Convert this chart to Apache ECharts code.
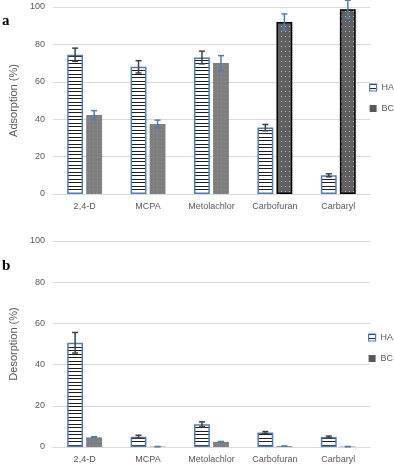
<!DOCTYPE html>
<html>
<head>
<meta charset="utf-8">
<script src="https://cdn.jsdelivr.net/npm/echarts@6/dist/echarts.min.js"></script>
<style>
  html, body { margin: 0; padding: 0; background: #fff; }
  #chart { width: 394px; height: 465px; }
</style>
</head>
<body>
<div id="chart"></div>
<script>
  // pesticide categories
  var categories = ['2,4-D', 'MCPA', 'Metolachlor', 'Carbofuran', 'Carbaryl'];

  // (a) adsorption %
  var adsHA = [74.5, 68, 73, 35.5, 10];
  var adsHAErr = [3.5, 3.3, 3.4, 1.7, 0.8];
  var adsBC = [42.2, 37.5, 70, 92, 98.8];
  var adsBCErr = [2.4, 2, 4, 4.3, 4.8];

  // (b) desorption %
  var desHA = [50.6, 5, 11, 7, 4.8];
  var desHAErr = [5, 0.7, 1.2, 0.5, 0.5];
  var desBC = [4.7, 0.2, 2.5, 0.4, 0.2];
  var desBCErr = [0.3, 0, 0.2, 0, 0];

  var labelColor = '#595959';
  var gridColor = '#d9d9d9';
  var font = '"Liberation Sans", Arial, sans-serif';

  // horizontal stripes for HA
  function stripes() {
    var c = document.createElement('canvas');
    c.width = 4; c.height = 7;
    var ctx = c.getContext('2d');
    ctx.fillStyle = '#fff';
    ctx.fillRect(0, 0, 4, 7);
    ctx.fillStyle = '#1e1e1e';
    ctx.fillRect(0, 0, 4, 1);
    ctx.fillRect(0, 4, 4, 1);
    return c;
  }
  // dotted grey for BC
  function dots(base, dot, w, h) {
    var c = document.createElement('canvas');
    c.width = w; c.height = h;
    var ctx = c.getContext('2d');
    ctx.fillStyle = base;
    ctx.fillRect(0, 0, w, h);
    ctx.fillStyle = dot;
    ctx.fillRect(1, 1, 1, 1);
    return c;
  }
  var haFill = { image: stripes(), repeat: 'repeat' };
  var bcFill = { image: dots('#7f7f7f', '#929292', 4, 4), repeat: 'repeat' };
  var bcFillDark = { image: dots('#606060', '#b8b8b8', 4, 5), repeat: 'repeat' };

  function errData(vals, errs) {
    return vals.map(function (v, i) { return [i, v - errs[i], v + errs[i]]; });
  }

  function errorBars(offset, color) {
    return function (params, api) {
      var band = api.size([1, 0])[0];
      var lo = api.coord([api.value(0), api.value(1)]);
      var hi = api.coord([api.value(0), api.value(2)]);
      var x = lo[0] + offset * band;
      var st = { stroke: color, lineWidth: 1.5 };
      return {
        type: 'group',
        children: [
          { type: 'line', shape: { x1: x, y1: lo[1], x2: x, y2: hi[1] }, style: st },
          { type: 'line', shape: { x1: x - 3, y1: lo[1], x2: x + 3, y2: lo[1] }, style: st },
          { type: 'line', shape: { x1: x - 3, y1: hi[1], x2: x + 3, y2: hi[1] }, style: st }
        ]
      };
    };
  }

  function xAxis(idx) {
    return {
      type: 'category', gridIndex: idx, data: categories,
      axisLine: { lineStyle: { color: gridColor } },
      axisTick: { show: false },
      axisLabel: { color: labelColor, fontSize: 9, fontFamily: font, margin: 8 }
    };
  }
  function yAxis(idx, name, gap) {
    return {
      type: 'value', gridIndex: idx, min: 0, max: 100, interval: 20,
      name: name, nameLocation: 'middle', nameGap: gap,
      nameTextStyle: { color: labelColor, fontSize: 11, fontFamily: font },
      axisLine: { show: false }, axisTick: { show: false },
      splitLine: { lineStyle: { color: gridColor } },
      axisLabel: { color: labelColor, fontSize: 9, fontFamily: font, margin: 8 }
    };
  }

  function haBar(idx, vals) {
    return {
      name: 'HA', type: 'bar', xAxisIndex: idx, yAxisIndex: idx,
      barWidth: '25%', barGap: '20%', data: vals,
      itemStyle: { color: haFill, borderColor: '#4a7ebb', borderWidth: 1.5 }
    };
  }
  function bcBar(idx, vals, darkFrom) {
    return {
      name: 'BC', type: 'bar', xAxisIndex: idx, yAxisIndex: idx,
      barWidth: '25%', barGap: '20%',
      data: vals.map(function (v, i) {
        return i >= darkFrom
          ? { value: v, itemStyle: { color: bcFillDark, borderColor: '#000', borderWidth: 1.5 } }
          : v;
      }),
      itemStyle: { color: bcFill }
    };
  }
  function errSeries(idx, data, offset, color) {
    return {
      type: 'custom', xAxisIndex: idx, yAxisIndex: idx, z: 5,
      renderItem: errorBars(offset, color), encode: { x: 0, y: [1, 2] },
      data: data, silent: true
    };
  }

  function legend(top, left) {
    return {
      top: top, left: left, orient: 'vertical', padding: 0,
      itemWidth: 7, itemHeight: 7, itemGap: 12, icon: 'rect',
      textStyle: { color: labelColor, fontSize: 9, fontFamily: font },
      data: [
        { name: 'HA', itemStyle: { color: haFill, borderColor: '#4a7ebb', borderWidth: 1.2 } },
        { name: 'BC', itemStyle: { color: '#595959' } }
      ]
    };
  }

  var chart = echarts.init(document.getElementById('chart'));
  chart.setOption({
    animation: false,
    backgroundColor: '#fff',
    grid: [
      { left: 45, right: 24, top: 7, height: 187 },
      { left: 40, right: 24, top: 241, height: 206 }
    ],
    xAxis: [xAxis(0), xAxis(1)],
    yAxis: [yAxis(0, 'Adsorption (%)', 31), yAxis(1, 'Desorption (%)', 26)],
    legend: [legend(83, 369), legend(333, 368)],
    graphic: [
      { type: 'text', left: 2, top: 14, style: { text: 'a', font: 'bold 15px "Liberation Serif", serif', fill: '#000' } },
      { type: 'text', left: 2, top: 259, style: { text: 'b', font: 'bold 15px "Liberation Serif", serif', fill: '#000' } }
    ],
    series: [
      haBar(0, adsHA),
      bcBar(0, adsBC, 3),
      errSeries(0, errData(adsHA, adsHAErr), -0.15, '#404040'),
      errSeries(0, errData(adsBC, adsBCErr), 0.15, '#4a7ebb'),
      haBar(1, desHA),
      bcBar(1, desBC, 99),
      errSeries(1, errData(desHA, desHAErr), -0.15, '#404040'),
      errSeries(1, errData(desBC, desBCErr), 0.15, '#4a7ebb')
    ]
  });
</script>
</body>
</html>
